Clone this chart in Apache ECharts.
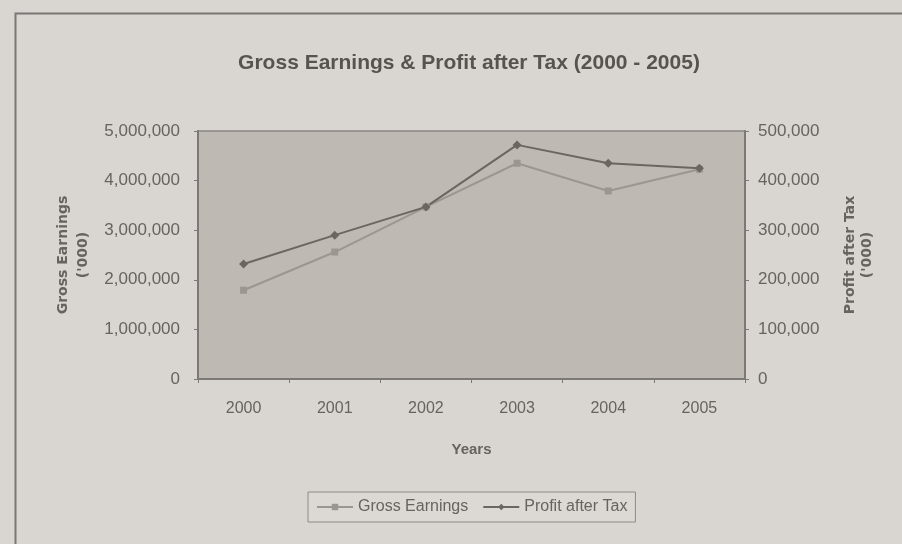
<!DOCTYPE html>
<html>
<head>
<meta charset="utf-8">
<script src="https://cdn.jsdelivr.net/npm/echarts@6/dist/echarts.min.js"></script>
<style>
html,body{margin:0;padding:0;background:#d9d5d0;}
#chart{width:902px;height:544px;}
</style>
</head>
<body>
<div id="chart"></div>
<script>
const years = ['2000', '2001', '2002', '2003', '2004', '2005'];
const grossEarnings = [1790000, 2560000, 3470000, 4350000, 3790000, 4230000];
const profitAfterTax = [232000, 290000, 347000, 472000, 435000, 425000];
const leftTicks = { min: 0, max: 5000000, interval: 1000000 };
const rightTicks = { min: 0, max: 500000, interval: 100000 };

const FONT = 'Liberation Sans';
const NAMEFONT = 'DejaVu Sans';
const TXT = '#676360';
const fmt = v => v.toLocaleString('en-US');

const chart = echarts.init(document.getElementById('chart'), null, { renderer: 'canvas' });
chart.setOption({
  backgroundColor: '#d9d5d0',
  animation: false,
  textStyle: { fontFamily: FONT },
  title: {
    text: 'Gross Earnings & Profit after Tax (2000 - 2005)',
    left: 464, top: 48, textAlign: 'center',
    textStyle: { fontFamily: FONT, fontSize: 21, fontWeight: 'bold', color: '#57534f' }
  },
  graphic: [{
    type: 'rect', left: 13, top: 11, z: -1,
    shape: { width: 1000, height: 1000 },
    style: { fill: 'none', stroke: '#7a7674', lineWidth: 2 }
  }],
  grid: {
    left: 198, right: 902 - 745, top: 131, bottom: 544 - 379,
    show: true, backgroundColor: '#bfb9b4', borderColor: '#8a8582', borderWidth: 1.5
  },
  legend: {
    bottom: 22, left: 308,
    padding: [7, 8], itemGap: 14, itemWidth: 36, itemHeight: 8,
    borderColor: '#8e8a87', borderWidth: 1, backgroundColor: '#dcd8d3',
    textStyle: { fontFamily: FONT, fontSize: 16, color: TXT },
    data: ['Gross Earnings', 'Profit after Tax']
  },
  xAxis: {
    type: 'category', data: years, boundaryGap: true,
    name: 'Years', nameLocation: 'middle', nameGap: 63,
    nameTextStyle: { fontFamily: FONT, fontSize: 15, fontWeight: 'bold', color: TXT },
    axisLine: { lineStyle: { color: '#7d7875', width: 2 } },
    axisTick: { show: true, inside: false, length: 4, lineStyle: { color: '#7d7875' } },
    axisLabel: { fontFamily: FONT, fontSize: 16, color: TXT, margin: 22 }
  },
  yAxis: [{
    type: 'value', position: 'left', min: leftTicks.min, max: leftTicks.max, interval: leftTicks.interval,
    name: "Gross Earnings\n('000)", nameLocation: 'middle', nameGap: 104, nameRotate: 90,
    nameTextStyle: { fontFamily: NAMEFONT, fontSize: 14, fontWeight: 'bold', color: TXT, lineHeight: 20 },
    axisLine: { show: true, lineStyle: { color: '#7d7875', width: 2 } },
    axisTick: { show: true, length: 4, lineStyle: { color: '#7d7875' } },
    splitLine: { show: false },
    axisLabel: { fontFamily: FONT, fontSize: 17, color: TXT, margin: 18, formatter: fmt }
  }, {
    type: 'value', position: 'right', min: rightTicks.min, max: rightTicks.max, interval: rightTicks.interval,
    name: "Profit after Tax\n('000)", nameLocation: 'middle', nameGap: 97, nameRotate: 90,
    nameTextStyle: { fontFamily: NAMEFONT, fontSize: 14, fontWeight: 'bold', color: TXT, lineHeight: 17 },
    axisLine: { show: true, lineStyle: { color: '#7d7875', width: 2 } },
    axisTick: { show: true, length: 4, lineStyle: { color: '#7d7875' } },
    splitLine: { show: false },
    axisLabel: { fontFamily: FONT, fontSize: 17, color: TXT, margin: 13, formatter: fmt }
  }],
  series: [{
    name: 'Gross Earnings', type: 'line', yAxisIndex: 0, data: grossEarnings,
    symbol: 'rect', symbolSize: 7,
    lineStyle: { color: '#9c9693', width: 2 },
    itemStyle: { color: '#9c9693' }
  }, {
    name: 'Profit after Tax', type: 'line', yAxisIndex: 1, data: profitAfterTax,
    symbol: 'diamond', symbolSize: 9,
    lineStyle: { color: '#6c6663', width: 2 },
    itemStyle: { color: '#6c6663' }
  }]
});
</script>
</body>
</html>
